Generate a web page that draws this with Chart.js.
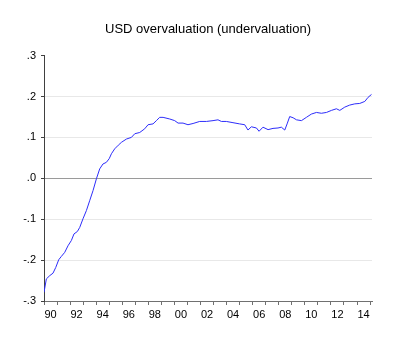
<!DOCTYPE html>
<html>
<head>
<meta charset="utf-8">
<script src="https://cdn.jsdelivr.net/npm/chart.js@4"></script>
<style>
  html, body { margin: 0; padding: 0; background: #fff; }
  #wrap { width: 400px; height: 342px; }
</style>
</head>
<body>
<div id="wrap"><canvas id="lineChart"></canvas></div>
<script>
// Data (fractional year, value)
const years = [
    1990.00, 1990.18, 1990.44, 1990.69, 1990.90, 1991.13, 1991.33, 1991.59, 1991.84,
    1992.10, 1992.30, 1992.56, 1992.74, 1992.99, 1993.25, 1993.50, 1993.76, 1994.02,
    1994.27, 1994.52, 1994.78, 1995.00, 1995.17, 1995.42, 1995.70, 1995.94, 1996.32,
    1996.70, 1996.96, 1997.34, 1997.72, 1997.98, 1998.36, 1998.62, 1998.87, 1999.13,
    1999.64, 2000.02, 2000.28, 2000.66, 2001.04, 2001.43, 2001.94, 2002.45, 2002.96,
    2003.34, 2003.60, 2003.98, 2004.49, 2005.00, 2005.39, 2005.64, 2005.90, 2006.29,
    2006.49, 2006.79, 2007.18, 2007.56, 2007.94, 2008.20, 2008.46, 2008.64, 2008.84,
    2009.10, 2009.36, 2009.74, 2010.12, 2010.50, 2010.89, 2011.27, 2011.66, 2012.04,
    2012.42, 2012.68, 2013.06, 2013.44, 2013.83, 2014.21, 2014.60, 2014.85, 2015.11
];
const usdValues = [
    -0.279, -0.246, -0.238, -0.232, -0.218, -0.199, -0.191, -0.181, -0.165,
    -0.152, -0.136, -0.130, -0.120, -0.099, -0.079, -0.055, -0.030, -0.001,
    0.023, 0.035, 0.039, 0.048, 0.060, 0.072, 0.081, 0.088, 0.096,
    0.100, 0.109, 0.112, 0.121, 0.131, 0.133, 0.141, 0.149, 0.149,
    0.145, 0.141, 0.135, 0.135, 0.131, 0.134, 0.139, 0.139, 0.141,
    0.143, 0.139, 0.139, 0.136, 0.133, 0.131, 0.118, 0.126, 0.123,
    0.115, 0.125, 0.119, 0.122, 0.123, 0.125, 0.118, 0.133, 0.151,
    0.148, 0.143, 0.141, 0.149, 0.157, 0.161, 0.159, 0.161, 0.166,
    0.170, 0.166, 0.174, 0.179, 0.182, 0.183, 0.188, 0.198, 0.205
];
// Tick labels
const yTickLabels = ['-.3', '-.2', '-.1', '.0', '.1', '.2', '.3'];
const xTickLabels = ['90', '92', '94', '96', '98', '00', '02', '04', '06', '08', '10', '12', '14'];
const firstYear = 1990;
const lastYear = 2015;

const points = years.map((yr, i) => ({ x: yr, y: usdValues[i] }));

// one tick every half year: integer years get a tick mark, even-year midpoints get a label
function buildXTicks(scale) {
    const ticks = [];
    for (let v = firstYear; v <= lastYear; v += 0.5) {
        ticks.push({ value: v });
    }
    scale.ticks = ticks;
}

function xLabel(value) {
    if (Math.abs(value % 1 - 0.5) > 0.01) return '';
    const yr = Math.floor(value);
    if ((yr - firstYear) % 2 !== 0) return '';
    return xTickLabels[(yr - firstYear) / 2] || '';
}

var ctx = document.getElementById('lineChart').getContext('2d');
var myChart = new Chart(ctx, {
    type: 'line',
    data: {
        datasets: [{
            data: points,
            borderColor: 'rgb(45, 45, 250)',
            borderWidth: 1,
            pointRadius: 0,
            tension: 0,
            fill: false
        }]
    },
    options: {
        responsive: true,
        maintainAspectRatio: false,
        animation: false,
        layout: { padding: { left: 0, right: 28, top: 0, bottom: 0 } },
        plugins: {
            legend: { display: false },
            tooltip: { enabled: false },
            title: {
                display: true,
                text: 'USD overvaluation (undervaluation)',
                fullSize: false,
                color: '#000',
                font: { family: 'Liberation Sans, Arial, sans-serif', size: 13, weight: 'normal' },
                padding: { top: 22, bottom: 18 }
            }
        },
        scales: {
            x: {
                type: 'linear',
                min: firstYear,
                max: 2015.15,
                afterBuildTicks: buildXTicks,
                afterFit: (scale) => { scale.height = 41; },
                border: { display: true, color: '#707070', width: 1 },
                grid: {
                    drawOnChartArea: false,
                    drawTicks: true,
                    tickLength: 4,
                    tickColor: (c) => (c.tick && c.tick.value % 1 === 0) ? '#707070' : 'rgba(0,0,0,0)'
                },
                ticks: {
                    autoSkip: false,
                    maxRotation: 0,
                    padding: 3,
                    color: '#000',
                    font: { family: 'Liberation Sans, Arial, sans-serif', size: 11 },
                    callback: xLabel
                }
            },
            y: {
                min: -0.3,
                max: 0.3,
                afterFit: (scale) => { scale.width = 44; },
                border: { display: true, color: '#404040', width: 1 },
                grid: {
                    drawTicks: true,
                    tickLength: 3,
                    tickColor: '#404040',
                    color: (c) => {
                        const v = Math.round(c.tick.value * 10);
                        if (v === 0) return '#9a9a9a';
                        if (Math.abs(v) === 3) return 'rgba(0,0,0,0)';
                        return '#e8e8e8';
                    }
                },
                ticks: {
                    stepSize: 0.1,
                    padding: 5,
                    color: '#000',
                    font: { family: 'Liberation Sans, Arial, sans-serif', size: 11 },
                    callback: (value) => yTickLabels[Math.round(value * 10) + 3]
                }
            }
        }
    }
});
</script>
</body>
</html>
